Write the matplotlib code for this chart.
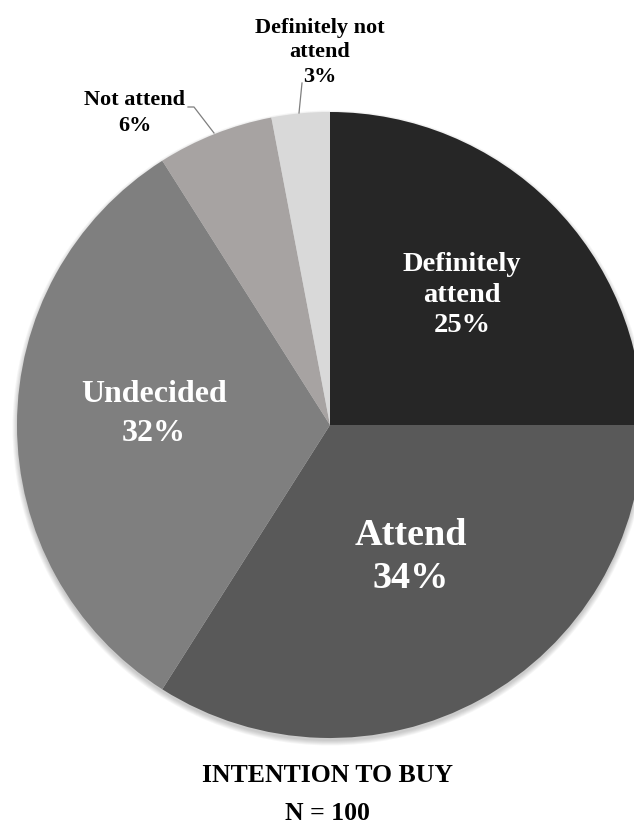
import matplotlib
matplotlib.use('Agg')
import matplotlib.pyplot as plt
from matplotlib.patches import Circle

# survey responses, clockwise from 12 o'clock
categories = ['Definitely attend', 'Attend', 'Undecided', 'Not attend', 'Definitely not attend']
shares = [25, 34, 32, 6, 3]
colors = ['#262626', '#595959', '#7f7f7f', '#a7a3a2', '#d9d9d9']

W, H = 634, 825
fig = plt.figure(figsize=(W / 100, H / 100), dpi=100)
ax = fig.add_axes([0, 0, 1, 1])
ax.axis('off')

cx, cy, r = 330, H - 425, 313

# soft drop shadow under the pie
for k in range(6):
    ax.add_patch(Circle((cx, cy - 3), r + k * 0.9, color='black', alpha=0.035,
                        lw=0, zorder=0))

ax.pie(shares, colors=colors, startangle=90, counterclock=False,
       center=(cx, cy), radius=r, wedgeprops=dict(linewidth=0, zorder=1))
ax.set_xlim(0, W)
ax.set_ylim(0, H)
ax.set_aspect('equal')

serif = dict(family='Liberation Serif', fontweight='bold', ha='center', va='center',
             zorder=3)

# labels inside the big slices
ax.text(462, H - 295, f'Definitely\nattend\n{shares[0]}%', color='white', fontsize=20.5,
        linespacing=1.3, **serif)
ax.text(411, H - 557, f'{categories[1]}\n{shares[1]}%', color='white', fontsize=27.5,
        linespacing=1.3, **serif)
ax.text(154, H - 414, f'{categories[2]}\n{shares[2]}%', color='white', fontsize=23,
        linespacing=1.45, **serif)

# small slices get outside labels with leader lines
ax.text(135, H - 113, f'{categories[3]}\n{shares[3]}%', color='black', fontsize=16,
        linespacing=1.35, **serif)
ax.plot([188, 194, 214], [H - 107, H - 107, H - 133], color='#7f7f7f', lw=0.9)

ax.text(320, H - 52, f'Definitely not\nattend\n{shares[4]}%', color='black', fontsize=16,
        linespacing=1.3, **serif)
ax.plot([302, 299], [H - 83, H - 113], color='#7f7f7f', lw=0.9)

ax.text(327, H - 776, 'INTENTION TO BUY', color='black', fontsize=18.5, **serif)
ax.text(327, H - 813, 'N = 100', color='black', fontsize=18.5, **serif)

fig.savefig('out.png', dpi=100)
